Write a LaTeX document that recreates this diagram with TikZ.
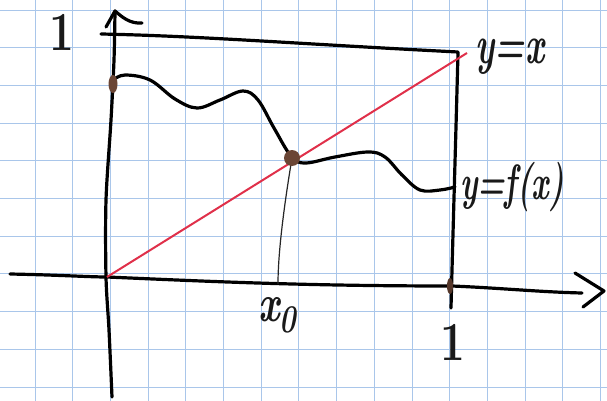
\documentclass[tikz,border=0pt]{standalone}
\definecolor{gridblue}{HTML}{A9C6EA}
\definecolor{redink}{HTML}{E0304A}
\definecolor{brownink}{HTML}{6A4535}
\begin{document}
\begin{tikzpicture}[x=1pt,y=-1pt,
  gridline/.style={draw=gridblue,line width=0.9pt},
  ink/.style={draw=black,line width=3.2pt,line cap=round,line join=round},
  thinink/.style={draw=black!85,line width=1.2pt},
  redline/.style={draw=redink,line width=2pt},
  lbl/.style={inner sep=0pt,text=black!90,font=\bfseries}]
\useasboundingbox[fill=white] (0,0) rectangle (607,401);
% grid paper
\foreach \i in {0,...,15} \draw[gridline] ({35+37.7*\i},0) -- ({35+37.7*\i},401);
\foreach \j in {0,...,10} \draw[gridline] (0,{10+37.7*\j}) -- (607,{10+37.7*\j});
% key points
\coordinate (O) at (107,277);
\coordinate (Ybot) at (112,397);
\coordinate (Ytop) at (115,11);
\coordinate (Xleft) at (10,274);
\coordinate (Xright) at (582,293);
\coordinate (TL) at (101,34);
\coordinate (TR) at (458,52);
\coordinate (BR) at (451,308);
\coordinate (P) at (292,158);
\coordinate (X0) at (278,284);
\coordinate (Rend) at (467,53);
% y axis with hand-drawn head
\draw[ink] plot[smooth, tension=0.5] coordinates {(112,397) (109,330) (106,277) (106,200) (111,120) (114,60) (115,11)};
\draw[ink] (106,27) -- (Ytop) .. controls (122,17) and (130,24) .. (142,23);
% x axis with chevron head
\draw[ink] (Xleft) .. controls (60,275) and (90,277) .. (O) .. controls (200,281) and (300,286) .. (452,286) .. controls (500,288) and (540,292) .. (Xright);
\draw[ink] (575,273) -- (604,291) -- (583,307);
% unit box
\draw[ink] (TL) .. controls (200,36) and (300,44) .. (TR) .. controls (456,130) and (453,230) .. (BR);
% diagonal y = x
\draw[redline] (O) -- (Rend);
% graph of f
\draw[ink] plot[smooth, tension=0.6] coordinates {(113,80) (125,75) (150,80) (175,99) (197,108) (220,100) (243,91) (258,100) (274,128) (291,156) (305,163) (335,157) (368,152) (385,157) (402,175) (420,190) (440,190) (455,187)};
% drop line from fixed point
\draw[thinink] (P) .. controls (285,200) and (278,250) .. (X0);
% marks
\fill[brownink] (P) circle (8pt);
\fill[brownink] (113,84) ellipse (4.5pt and 9pt);
\fill[brownink!80!black] (450,286) ellipse (3pt and 8pt);
% labels
\node[lbl] (oney) at (62,32) {\scalebox{1}[1.25]{\fontsize{44}{44}\selectfont 1}};
\node[lbl] (onex) at (453,342) {\scalebox{1}[1.25]{\fontsize{44}{44}\selectfont 1}};
\node[lbl] (xnull) at (277,315) {\scalebox{1}[1.4]{\fontsize{38}{38}\selectfont\itshape x\raisebox{-0.2em}{\fontsize{28}{28}\selectfont 0}}};
\node[lbl] (yx) at (510,57) {\scalebox{1}[1.6]{\fontsize{34}{34}\selectfont\itshape y=x}};
\node[lbl] (yfx) at (512,187) {\scalebox{1}[1.6]{\fontsize{31}{31}\selectfont\itshape y=f(x)}};
\end{tikzpicture}
\end{document}
